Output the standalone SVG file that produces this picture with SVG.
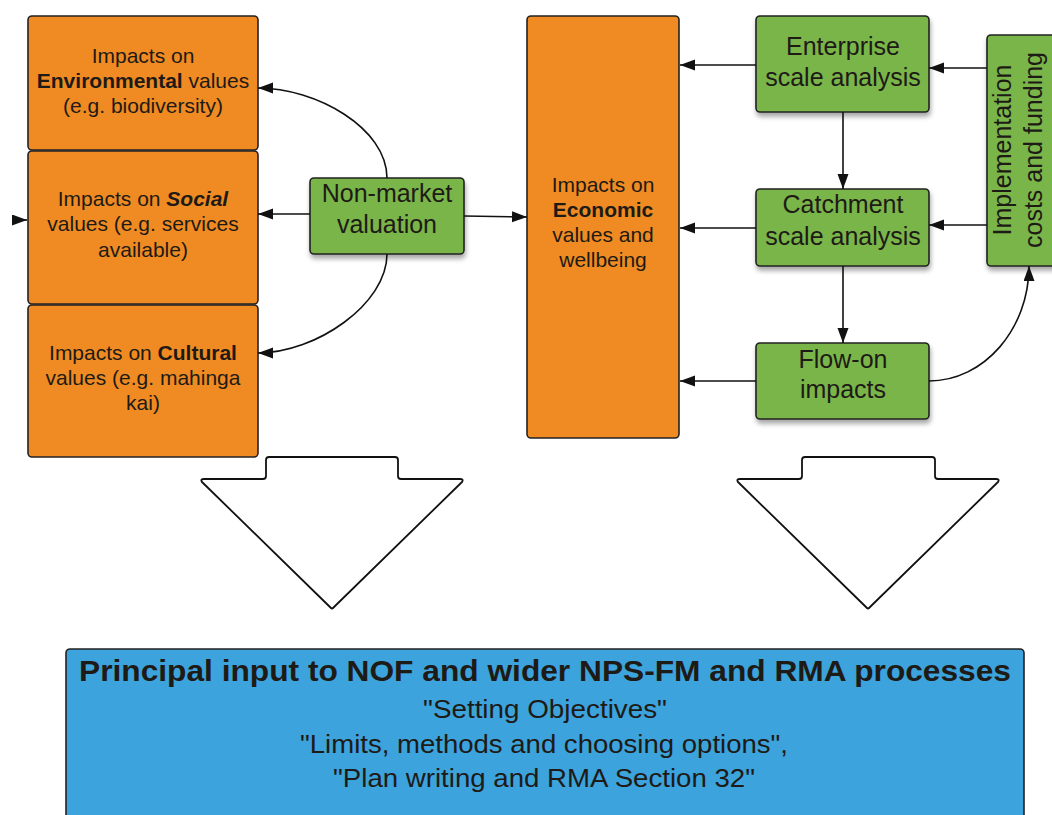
<svg xmlns="http://www.w3.org/2000/svg" width="1052" height="815" viewBox="0 0 1052 815">
<style>
.box{stroke:#222;stroke-width:1.6}
.or{fill:#EF8B22}
.gr{fill:#79B548}
.bl{fill:#3CA3DC}
.t{font-family:"Liberation Sans",Arial,sans-serif;fill:#1e1a16;text-anchor:middle}
.s21{font-size:21px}
.s25{font-size:25px}
.c{fill:none;stroke:#111;stroke-width:1.6}
.big{fill:#fff;stroke:#111;stroke-width:1.8;stroke-linejoin:round}
</style>
<defs>
<marker id="ah" markerUnits="userSpaceOnUse" markerWidth="16" markerHeight="12" refX="15" refY="5.5" orient="auto">
<path d="M0,0 L15,5.5 L0,11 z" fill="#111"/>
</marker>
<filter id="sh" x="-10%" y="-10%" width="120%" height="130%">
<feGaussianBlur in="SourceAlpha" stdDeviation="2.5"/>
<feOffset dx="1" dy="4" result="b"/>
<feComponentTransfer><feFuncA type="linear" slope="0.35"/></feComponentTransfer>
<feMerge><feMergeNode/><feMergeNode in="SourceGraphic"/></feMerge>
</filter>
</defs>

<g id="env">
<rect class="box or" x="28" y="16" width="230" height="134" rx="4"/>
<text class="t s21" x="143" y="63">Impacts on</text>
<text class="t s21" x="143" y="88"><tspan font-weight="bold">Environmental</tspan> values</text>
<text class="t s21" x="143" y="113">(e.g. biodiversity)</text>
</g>
<g id="social">
<rect class="box or" x="28" y="151" width="230" height="153" rx="4"/>
<text class="t s21" x="143" y="206">Impacts on <tspan font-weight="bold" font-style="italic">Social</tspan></text>
<text class="t s21" x="143" y="231">values (e.g. services</text>
<text class="t s21" x="143" y="257">available)</text>
</g>
<g id="cultural">
<rect class="box or" x="28" y="305" width="230" height="152" rx="4"/>
<text class="t s21" x="143" y="360">Impacts on <tspan font-weight="bold">Cultural</tspan></text>
<text class="t s21" x="143" y="385">values (e.g. mahinga</text>
<text class="t s21" x="143" y="410">kai)</text>
</g>
<g id="nonmarket">
<rect class="box gr" x="310" y="178" width="154" height="76" rx="4" filter="url(#sh)"/>
<text class="t s25" x="387" y="202">Non-market</text>
<text class="t s25" x="387" y="233">valuation</text>
</g>
<g id="economic">
<rect class="box or" x="527" y="16" width="152" height="422" rx="4"/>
<text class="t s21" x="603" y="192">Impacts on</text>
<text class="t s21" x="603" y="217" font-weight="bold">Economic</text>
<text class="t s21" x="603" y="242">values and</text>
<text class="t s21" x="603" y="267">wellbeing</text>
</g>
<g id="enterprise">
<rect class="box gr" x="756" y="16" width="173" height="96" rx="4" filter="url(#sh)"/>
<text class="t s25" x="843" y="55">Enterprise</text>
<text class="t s25" x="843" y="86">scale analysis</text>
</g>
<g id="catchment">
<rect class="box gr" x="756" y="189" width="173" height="77" rx="4" filter="url(#sh)"/>
<text class="t s25" x="843" y="213">Catchment</text>
<text class="t s25" x="843" y="245">scale analysis</text>
</g>
<g id="flowon">
<rect class="box gr" x="756" y="343" width="173" height="76" rx="4" filter="url(#sh)"/>
<text class="t s25" x="843" y="368">Flow-on</text>
<text class="t s25" x="843" y="398">impacts</text>
</g>
<g id="implementation">
<rect class="box gr" x="987" y="35" width="90" height="231" rx="4" filter="url(#sh)"/>
<text class="t s25" transform="translate(1011,150) rotate(-90)" x="0" y="0">Implementation</text>
<text class="t s25" transform="translate(1042,150) rotate(-90)" x="0" y="0">costs and funding</text>
</g>
<g id="arrow-left">
<path class="big" d="M269,457 L395,457 Q398,457 398,460 L398,476 Q398,479 401,479 L460,479 Q464,479 462,482 L333,608 Q332,609 331,608 L202,482 Q200,479 204,479 L263,479 Q266,479 266,476 L266,460 Q266,457 269,457 z"/>
</g>
<g id="arrow-right">
<path class="big" d="M805,457 L932,457 Q935,457 935,460 L935,476 Q935,479 938,479 L996,479 Q1000,479 998,482 L869,608 Q868,609 867,608 L738,482 Q736,479 740,479 L799,479 Q802,479 802,476 L802,460 Q802,457 805,457 z"/>
</g>
<g id="principal">
<rect class="box bl" x="66" y="649" width="958" height="190" rx="4"/>
<text class="t" x="545" y="681" font-size="30" font-weight="bold" fill="#0d0d0d" textLength="932" lengthAdjust="spacingAndGlyphs">Principal input to NOF and wider NPS-FM and RMA processes</text>
<text class="t" x="545" y="718" font-size="26" textLength="244" lengthAdjust="spacingAndGlyphs">"Setting Objectives"</text>
<text class="t" x="544" y="753" font-size="26" textLength="488" lengthAdjust="spacingAndGlyphs">"Limits, methods and choosing options",</text>
<text class="t" x="544" y="787" font-size="26" textLength="422" lengthAdjust="spacingAndGlyphs">"Plan writing and RMA Section 32"</text>
</g>
<g id="connectors">
<path class="c" d="M12,220 L27,220" marker-end="url(#ah)"/>
<path class="c" d="M387,178 C387,128 316,88 258,88" marker-end="url(#ah)"/>
<path class="c" d="M310,214 L258,214" marker-end="url(#ah)"/>
<path class="c" d="M387,254 C387,304 316,353 258,353" marker-end="url(#ah)"/>
<path class="c" d="M464,216 L527,217" marker-end="url(#ah)"/>
<path class="c" d="M756,65 L680,65" marker-end="url(#ah)"/>
<path class="c" d="M756,228 L680,228" marker-end="url(#ah)"/>
<path class="c" d="M756,381 L680,381" marker-end="url(#ah)"/>
<path class="c" d="M843,112 L843,189" marker-end="url(#ah)"/>
<path class="c" d="M843,266 L843,343" marker-end="url(#ah)"/>
<path class="c" d="M987,68 L929,68" marker-end="url(#ah)"/>
<path class="c" d="M987,225 L929,225" marker-end="url(#ah)"/>
<path class="c" d="M929,381 C984,381 1029,329 1029,266" marker-end="url(#ah)"/>
</g>
</svg>
